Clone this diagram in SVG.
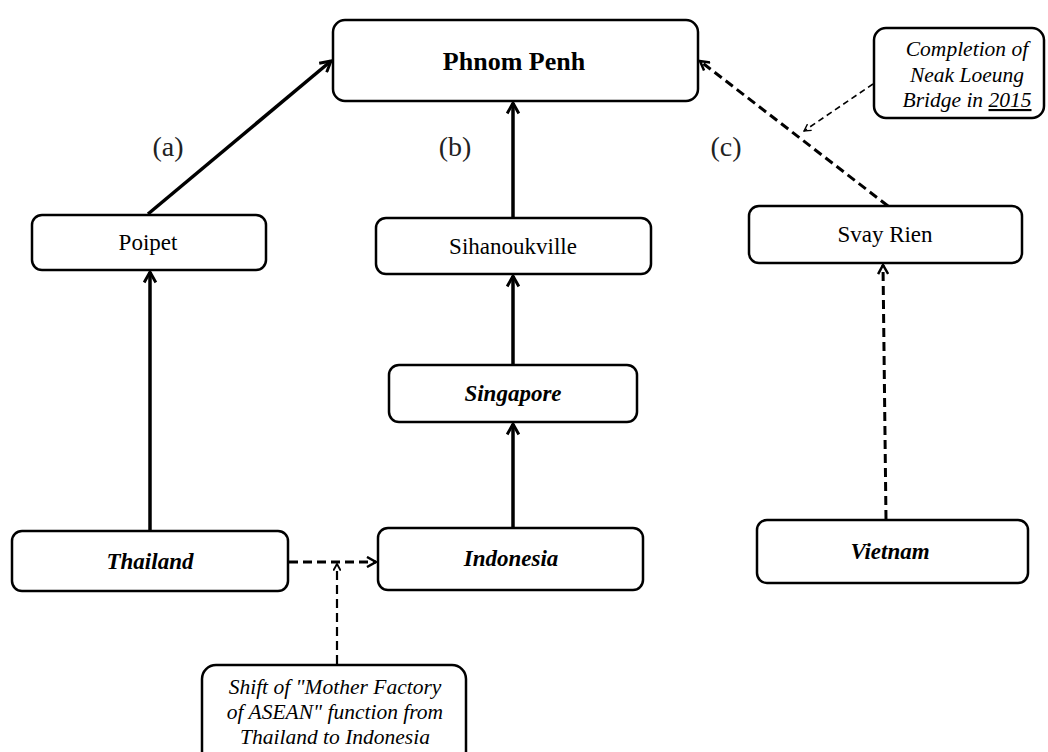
<svg xmlns="http://www.w3.org/2000/svg" width="1048" height="752" viewBox="0 0 1048 752">
  <style>
    .box { fill: #fff; stroke: #000; stroke-width: 2.5; }
    .lbl { font-family: "Liberation Serif", serif; font-size: 23px; text-anchor: middle; fill: #000; }
    .note { font-size: 21.5px; font-style: italic; }
    .bi { font-weight: bold; font-style: italic; }
    .tag { font-size: 28px; fill: #222; }
    .solid { stroke: #000; stroke-width: 3.5; fill: none; }
    .dash { stroke: #000; stroke-width: 3; fill: none; stroke-dasharray: 9 5; }
    .thin { stroke: #000; stroke-width: 1.6; fill: none; stroke-dasharray: 6 4; }
  </style>
  <defs>
    <marker id="arr" viewBox="0 0 12 12" refX="10" refY="6" markerWidth="4" markerHeight="4" orient="auto" markerUnits="strokeWidth">
      <path d="M1,1 L10,6 L1,11" fill="none" stroke="#000" stroke-width="2.5"/>
    </marker>
    <marker id="arrThin" viewBox="0 0 12 12" refX="10" refY="6" markerWidth="9" markerHeight="9" orient="auto" markerUnits="userSpaceOnUse">
      <path d="M1,1 L10,6 L1,11" fill="none" stroke="#000" stroke-width="1.8"/>
    </marker>
  </defs>

  <g id="connectors">
    <line class="solid" x1="148" y1="214" x2="331" y2="61" marker-end="url(#arr)"/>
    <line class="solid" x1="150" y1="531" x2="150" y2="272" marker-end="url(#arr)"/>
    <line class="solid" x1="513" y1="217" x2="513" y2="103" marker-end="url(#arr)"/>
    <line class="solid" x1="513" y1="365" x2="513" y2="276" marker-end="url(#arr)"/>
    <line class="solid" x1="513" y1="528" x2="513" y2="424" marker-end="url(#arr)"/>
    <line class="dash" x1="888" y1="206" x2="700" y2="61" marker-end="url(#arr)"/>
    <line class="dash" x1="886" y1="519" x2="883" y2="265" marker-end="url(#arr)"/>
    <line class="dash" x1="289" y1="562" x2="376" y2="562" marker-end="url(#arr)"/>
    <line class="dash" x1="337" y1="664" x2="337" y2="564" marker-end="url(#arr)" style="stroke-width:2.2"/>
    <line class="thin" x1="873" y1="84" x2="804" y2="131" marker-end="url(#arrThin)"/>
  </g>

  <g id="labels">
    <text class="lbl tag" x="168" y="156">(a)</text>
    <text class="lbl tag" x="455" y="156">(b)</text>
    <text class="lbl tag" x="726" y="156">(c)</text>
  </g>

  <g id="phnom-penh">
    <rect class="box" x="333" y="20" width="365" height="81" rx="12"/>
    <text class="lbl" x="514" y="70" style="font-size:26px;font-weight:bold">Phnom Penh</text>
  </g>

  <g id="completion-note">
    <rect class="box" x="874" y="28" width="170" height="90" rx="12"/>
    <text class="lbl note" x="967" y="56">Completion of</text>
    <text class="lbl note" x="967" y="82">Neak Loeung</text>
    <text class="lbl note" x="967" y="107">Bridge in <tspan text-decoration="underline">2015</tspan></text>
  </g>

  <g id="poipet">
    <rect class="box" x="32" y="215" width="234" height="55" rx="10"/>
    <text class="lbl" x="148" y="250">Poipet</text>
  </g>

  <g id="sihanoukville">
    <rect class="box" x="376" y="218" width="275" height="56" rx="10"/>
    <text class="lbl" x="513" y="254">Sihanoukville</text>
  </g>

  <g id="svay-rien">
    <rect class="box" x="749" y="206" width="273" height="57" rx="10"/>
    <text class="lbl" x="885" y="242">Svay Rien</text>
  </g>

  <g id="singapore">
    <rect class="box" x="389" y="365" width="248" height="57" rx="10"/>
    <text class="lbl bi" x="513" y="401">Singapore</text>
  </g>

  <g id="thailand">
    <rect class="box" x="12" y="531" width="276" height="60" rx="10"/>
    <text class="lbl bi" x="150" y="569">Thailand</text>
  </g>

  <g id="indonesia">
    <rect class="box" x="378" y="528" width="265" height="62" rx="10"/>
    <text class="lbl bi" x="511" y="566">Indonesia</text>
  </g>

  <g id="vietnam">
    <rect class="box" x="757" y="520" width="271" height="63" rx="10"/>
    <text class="lbl bi" x="890" y="559">Vietnam</text>
  </g>

  <g id="shift-note">
    <rect class="box" x="202" y="665" width="264" height="100" rx="14"/>
    <text class="lbl note" x="335" y="694">Shift of "Mother Factory</text>
    <text class="lbl note" x="335" y="719">of ASEAN" function from</text>
    <text class="lbl note" x="335" y="744">Thailand to Indonesia</text>
  </g>
</svg>
